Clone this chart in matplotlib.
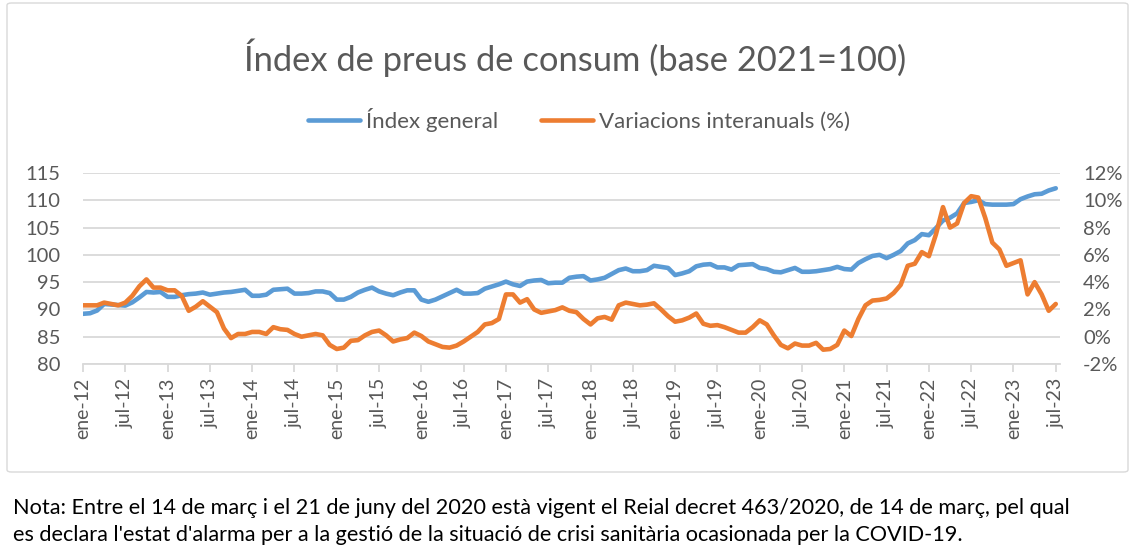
import matplotlib
matplotlib.use("Agg")
import matplotlib.pyplot as plt
from matplotlib.patches import FancyBboxPatch
from matplotlib.ticker import FuncFormatter

# Índex general (base 2021=100), mensual ene-12 .. jul-23
index_general = [
    89.2, 89.3, 89.8, 91.0, 90.9, 90.8, 90.7, 91.3, 92.2, 93.2, 93.1, 93.2,   # 2012
    92.3, 92.3, 92.6, 92.8, 92.9, 93.1, 92.7, 92.9, 93.1, 93.2, 93.4, 93.6,   # 2013
    92.5, 92.5, 92.7, 93.6, 93.7, 93.8, 92.9, 92.9, 93.0, 93.3, 93.3, 93.0,   # 2014
    91.8, 91.8, 92.3, 93.1, 93.6, 94.0, 93.3, 92.9, 92.6, 93.1, 93.5, 93.5,   # 2015
    91.8, 91.4, 91.8, 92.4, 93.0, 93.6, 92.9, 92.9, 93.0, 93.8, 94.2, 94.6,   # 2016
    95.1, 94.6, 94.3, 95.1, 95.3, 95.4, 94.8, 94.9, 94.9, 95.8, 96.0, 96.1,   # 2017
    95.3, 95.5, 95.8, 96.5, 97.2, 97.5, 97.0, 97.0, 97.2, 98.0, 97.8, 97.6,   # 2018
    96.3, 96.6, 97.0, 97.9, 98.2, 98.3, 97.7, 97.7, 97.3, 98.1, 98.2, 98.3,   # 2019
    97.6, 97.4, 96.9, 96.8, 97.2, 97.6, 96.9, 96.9, 97.0, 97.2, 97.4, 97.8,   # 2020
    97.4, 97.3, 98.5, 99.2, 99.8, 100.0, 99.4, 100.0, 100.7, 102.1, 102.7, 103.8,  # 2021
    103.6, 104.9, 106.3, 106.8, 107.6, 109.5, 109.7, 110.0, 109.3, 109.2, 109.2, 109.2,  # 2022
    109.3, 110.2, 110.7, 111.1, 111.2, 111.8, 112.2,                          # 2023
]

# Variacions interanuals (%)
variacions = [
    2.3, 2.3, 2.3, 2.5, 2.4, 2.3, 2.5, 3.0, 3.7, 4.2, 3.6, 3.6,
    3.4, 3.4, 3.0, 1.9, 2.2, 2.6, 2.2, 1.8, 0.6, -0.1, 0.2, 0.2,
    0.35, 0.35, 0.2, 0.7, 0.55, 0.5, 0.2, 0.0, 0.1, 0.2, 0.1, -0.6,
    -0.9, -0.8, -0.3, -0.25, 0.1, 0.35, 0.45, 0.1, -0.35, -0.2, -0.1, 0.3,
    0.05, -0.35, -0.55, -0.75, -0.8, -0.65, -0.35, 0.0, 0.35, 0.9, 1.0, 1.3,
    3.1, 3.1, 2.5, 2.75, 2.0, 1.75, 1.85, 1.95, 2.15, 1.9, 1.8, 1.3,
    0.9, 1.35, 1.45, 1.25, 2.3, 2.5, 2.4, 2.3, 2.35, 2.45, 2.0, 1.5,
    1.1, 1.2, 1.4, 1.7, 0.95, 0.8, 0.85, 0.7, 0.5, 0.3, 0.3, 0.7,
    1.2, 0.9, 0.1, -0.6, -0.85, -0.5, -0.65, -0.65, -0.45, -0.95, -0.9, -0.6,
    0.45, 0.05, 1.3, 2.3, 2.65, 2.7, 2.8, 3.2, 3.8, 5.2, 5.35, 6.2,
    5.9, 7.5, 9.5, 8.0, 8.3, 9.8, 10.3, 10.2, 8.7, 6.9, 6.4, 5.2,
    5.4, 5.6, 3.1, 4.0, 3.1, 1.9, 2.4,
]

tick_labels = [
    "ene-12", "jul-12", "ene-13", "jul-13", "ene-14", "jul-14", "ene-15", "jul-15",
    "ene-16", "jul-16", "ene-17", "jul-17", "ene-18", "jul-18", "ene-19", "jul-19",
    "ene-20", "jul-20", "ene-21", "jul-21", "ene-22", "jul-22", "ene-23", "jul-23",
]

title = "Índex de preus de consum (base 2021=100)"
nota = ["Nota: Entre el 14 de març i el 21 de juny del 2020 està vigent el Reial decret 463/2020, de 14 de març, pel qual",
        "es declara l'estat d'alarma per a la gestió de la situació de crisi sanitària ocasionada per la COVID-19."]

plt.rcParams['font.family'] = ['Lato', 'DejaVu Sans']
GREY = '#595959'
GRID = '#d9d9d9'
BLUE = '#5B9BD5'
ORANGE = '#ED7D31'

W, H = 1136, 558
fig = plt.figure(figsize=(W / 100, H / 100), dpi=100)

# marc del gràfic
fig.patches.append(FancyBboxPatch((7 / W, 1 - 472 / H), 1121 / W, 469 / H,
                                  boxstyle="round,pad=0,rounding_size=0.004",
                                  transform=fig.transFigure, fc='none', ec=GRID, lw=1))

ax = fig.add_axes([83 / W, 1 - 364 / H, (1060 - 83) / W, (364 - 173) / H])
x = list(range(len(index_general)))

ax.grid(axis='y', color=GRID, lw=1.3)
ax.set_axisbelow(True)
l1, = ax.plot(x, index_general, color=BLUE, lw=3.3, solid_capstyle='round', label='Índex general')
ax.set_ylim(80, 115)
ax.set_yticks(range(80, 116, 5))
ax.set_xlim(0, 138.6)
ax.set_xticks(list(range(0, len(index_general), 6)))
ax.set_xticklabels(tick_labels, rotation=90)

ax2 = ax.twinx()
l2, = ax2.plot(x, variacions, color=ORANGE, lw=3.3, solid_capstyle='round', label='Variacions interanuals (%)')
ax2.set_ylim(-2, 12)
ax2.set_yticks(range(-2, 13, 2))
ax2.yaxis.set_major_formatter(FuncFormatter(lambda v, p: f"{int(v)}%"))

for a in (ax, ax2):
    for s in a.spines.values():
        s.set_visible(False)
ax.spines['bottom'].set_visible(True)
ax.spines['bottom'].set_color(GRID)
ax.spines['bottom'].set_linewidth(1.3)
ax.tick_params(axis='x', colors=GRID, length=6, width=1.3, labelcolor=GREY, labelsize=14, pad=4)
ax.tick_params(axis='y', length=0, labelcolor=GREY, labelsize=14.5, pad=16)
ax2.tick_params(axis='y', length=0, labelcolor=GREY, labelsize=14.5, pad=16.5)

fig.text(575 / W, 1 - 58 / H, title, ha='center', va='center', fontsize=24.8, color=GREY)
fig.legend(handles=[l1, l2], loc='center', bbox_to_anchor=(579 / W, 1 - 120 / H), ncol=2, frameon=False,
           fontsize=16, labelcolor=GREY, handlelength=2.35, handletextpad=0.25, columnspacing=1.95)

fig.text(13 / W, 1 - 508 / H, nota[0], ha='left', va='center', fontsize=15.6, color='black')
fig.text(13 / W, 1 - 535 / H, nota[1], ha='left', va='center', fontsize=15.6, color='black')

fig.savefig("out.png", dpi=100)
